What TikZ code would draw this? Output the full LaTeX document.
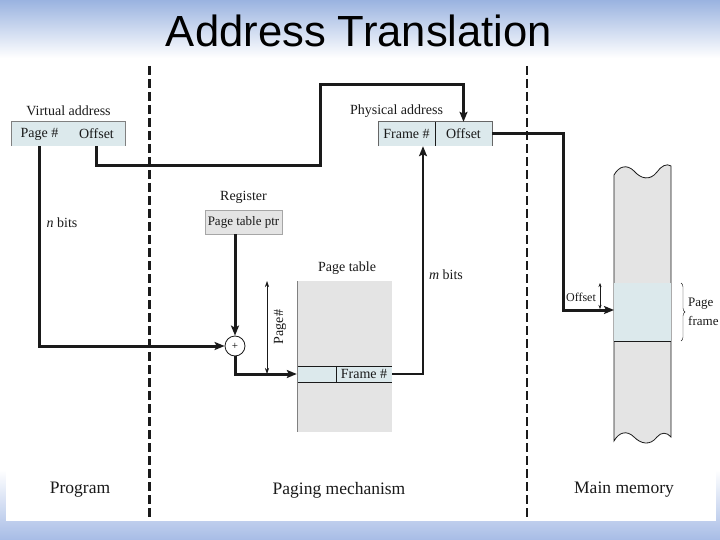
\documentclass[tikz,border=0pt]{standalone}
\usepackage{fontspec}
\setmainfont{Liberation Serif}
\newfontfamily\titlefont{Liberation Sans}
\usetikzlibrary{arrows.meta,decorations.pathreplacing}
\definecolor{boxblue}{HTML}{DCE9EC}
\definecolor{memgray}{HTML}{E4E4E4}
\definecolor{slideblue}{HTML}{9AB3E0}
\definecolor{bandbot}{HTML}{A7BCE6}
\definecolor{inkc}{HTML}{1A1A1A}
\tikzset{
  lbl/.style={font=\fontsize{14}{16}\selectfont, text=inkc, inner sep=0pt},
  biglbl/.style={font=\fontsize{17.5}{20}\selectfont, text=inkc, inner sep=0pt},
  cell/.style={fill=boxblue, inner sep=0pt, minimum height=24pt, font=\fontsize{14}{16}\selectfont, text=inkc},
  heavy/.style={line width=3pt, draw=inkc},
  tipped/.style={-{Stealth[length=10pt,width=8pt,inset=2pt]}},
  divider/.style={line width=3pt, draw=inkc, dash pattern=on 9pt off 4pt},
  thinline/.style={line width=0.6pt, draw=inkc}
}
\begin{document}
\begin{tikzpicture}[x=1pt,y=-1pt]
\useasboundingbox (0,0) rectangle (720,540);
% background
\shade[top color=slideblue, bottom color=white] (0,0) rectangle (720,58);
\shade[top color=white, bottom color=bandbot] (0,470) rectangle (720,540);
\fill[white] (0,58) rectangle (720,470);
\fill[white] (6,469) rectangle (716,521);
\node[font=\titlefont\fontsize{43.6}{50}\selectfont, anchor=base, inner sep=0pt] (title) at (359,47) {Address Translation};

% dashed dividers
\coordinate (d1t) at (149,66); \coordinate (d1b) at (149,520);
\coordinate (d2t) at (527,66); \coordinate (d2b) at (527,520);
\draw[divider] (d1t) -- (d1b);
\draw[divider, line width=2pt] (d2t) -- (d2b);

% virtual address
\node[lbl] (vlabel) at (68.5,111) {Virtual address};
\node[cell, minimum width=57pt] (vpage) at (39.5,134) {Page \#};
\node[cell, minimum width=57pt] (voffset) at (96.5,134) {Offset};
\draw[thinline, draw=gray] (vpage.south west) -- (vpage.north west) -- (voffset.north east) -- (voffset.south east);
\node[lbl] (nbits) at (62,223) {\textit{n} bits};

% physical address
\node[lbl] (plabel) at (396.5,111) {Physical address};
\node[cell, minimum width=57pt] (pframe) at (406.5,134) {Frame \#};
\node[cell, minimum width=57pt] (poffset) at (463.5,134) {Offset};
\draw[thinline, draw=gray!80!black] (pframe.south west) -- (pframe.north west) -- (poffset.north east) -- (poffset.south east);
\draw[thinline] (pframe.north east) -- (pframe.south east);

% register
\node[lbl] (reglabel) at (243.5,197) {Register};
\node[draw=gray!70, fill=memgray, inner sep=0pt, minimum width=77pt, minimum height=24pt, font=\fontsize{13}{15}\selectfont, text=inkc] (reg) at (243.5,222) {Page table ptr};

% page table
\node[lbl] (ptlabel) at (347,268) {Page table};
\fill[memgray] (297,281) rectangle (392,432);
\node[cell, minimum width=39pt, minimum height=16pt] (ptrowL) at (316.5,374) {};
\node[cell, minimum width=56pt, minimum height=16pt] (ptframe) at (364,374) {Frame \#};
\draw[thinline] (ptrowL.north west) -- (ptframe.north east);
\draw[thinline] (ptrowL.south west) -- (ptframe.south east);
\draw[thinline] (ptrowL.north east) -- (ptrowL.south east);
\draw[thinline, draw=gray] (297,281) -- (297,432);
\node[lbl] (mbits) at (446,275) {\textit{m} bits};

% adder
\node[circle, draw=inkc, line width=0.8pt, fill=white, minimum size=20pt, inner sep=0pt, font=\fontsize{11}{12}\selectfont] (circ) at (235,346) {+};

% page# measure
\coordinate (pgt) at (267,281); \coordinate (pgb) at (267,374);
\draw[thinline, {Stealth[length=6pt,width=4pt]}-{Stealth[length=6pt,width=4pt]}] (pgt) -- (pgb);
\node[lbl, rotate=90] (pglabel) at (280,327) {Page\#};

% main memory
\path[fill=memgray, draw=inkc, line width=0.8pt]
  (614,175) .. controls (619,166) and (627,164) .. (634,171)
  .. controls (641,179) and (650,181) .. (657,172)
  .. controls (661,166) and (667,163) .. (671,166)
  -- (671,437)
  .. controls (667,432) and (661,432) .. (657,437)
  .. controls (650,446) and (641,444) .. (634,437)
  .. controls (627,430) and (619,432) .. (614,441) -- cycle;
\fill[boxblue] (614.4,283) rectangle (670.6,341);
\draw[thinline] (614,341) -- (671,341);
\coordinate (pft) at (681,283); \coordinate (pfb) at (681,341);
\draw[thinline, line width=0.4pt, decorate, decoration={brace, amplitude=4pt}] (pft) -- (pfb);
\node[lbl, font=\fontsize{13}{15}\selectfont, anchor=west] (pflabel1) at (688,304) {Page};
\node[lbl, font=\fontsize{13}{15}\selectfont, anchor=west] (pflabel2) at (688,321) {frame};
\node[font=\fontsize{12}{14}\selectfont, text=inkc, inner sep=0pt] (offlabel) at (581,297) {Offset};
\coordinate (oat) at (600,283); \coordinate (oab) at (600,309);
\draw[line width=0.4pt, draw=inkc, {Stealth[length=4pt,width=3pt]}-{Stealth[length=4pt,width=3pt]}] (oat) -- (oab);

% connectors
\coordinate (b1) at (320,166);
\coordinate (b2) at (320,85);
\coordinate (c1) at (563,310);
\coordinate (memin) at (614,310);
\draw[heavy, tipped] (voffset.south) |- (b1) -- (b2) -| (poffset.north);
\draw[heavy, tipped] (vpage.south) |- (circ.west);
\draw[heavy, tipped] (circ.north |- reg.south) -- (circ.north);
\draw[heavy, tipped] (circ.south) |- (ptrowL.west);
\draw[line width=2pt, draw=inkc, tipped] (ptframe.east) -| ([xshift=16.5pt]pframe.south);
\draw[heavy, tipped] (poffset.east) -| (c1) -- (memin);

% bottom labels
\node[biglbl] (prog) at (80,490) {Program};
\node[biglbl] (paging) at (339,490) {Paging mechanism};
\node[biglbl] (mainmem) at (624,490) {Main memory};
\end{tikzpicture}
\end{document}
